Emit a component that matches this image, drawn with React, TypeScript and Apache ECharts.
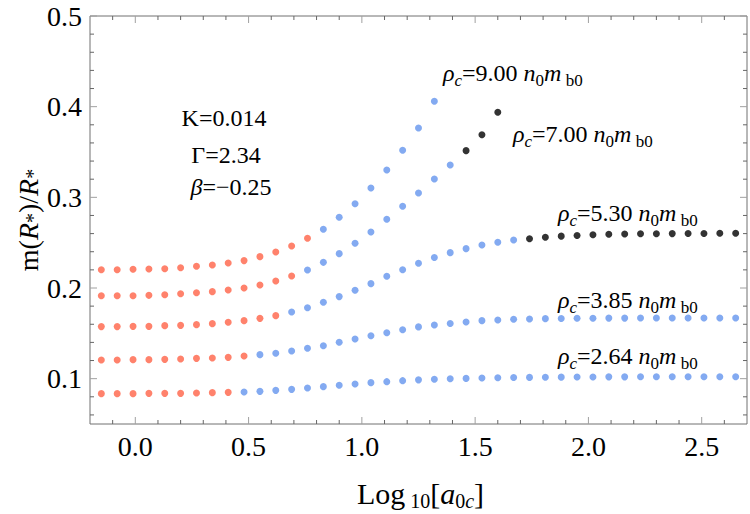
import React, { useEffect, useRef } from "react";
import * as echarts from "echarts";

// log10 of the central acceleration parameter, shared by every sequence
const logA0c = [
  -0.15, -0.08, -0.01, 0.06, 0.13, 0.2, 0.27, 0.34, 0.41, 0.48, 0.55, 0.62, 0.69, 0.76,
  0.83, 0.9, 0.97, 1.04, 1.11, 1.18, 1.25, 1.32, 1.39, 1.46, 1.53, 1.6, 1.67, 1.74,
  1.81, 1.88, 1.95, 2.02, 2.09, 2.16, 2.23, 2.3, 2.37, 2.44, 2.51, 2.58, 2.65,
];

// m(R*)/R* for each central density
const rho264 = [
  0.0835, 0.0835, 0.0835, 0.0838, 0.0838, 0.0838, 0.0842, 0.0846, 0.0849,
  0.0853, 0.086, 0.0871, 0.0882, 0.0897, 0.0912, 0.0927, 0.0941, 0.0956, 0.0967, 0.0978, 0.0987, 0.0994, 0.1,
  0.1003, 0.1007, 0.101, 0.1012, 0.1014, 0.1016, 0.1017, 0.1018, 0.1019, 0.102, 0.102, 0.1021, 0.1021,
  0.1021, 0.1022, 0.1022, 0.1022, 0.1022,
];
const rho385 = [
  0.1206, 0.1206, 0.121, 0.121, 0.1213, 0.1217, 0.1224, 0.1228, 0.1235, 0.125,
  0.1265, 0.128, 0.1305, 0.1335, 0.1364, 0.1401, 0.1437, 0.1474, 0.1507, 0.154, 0.1571, 0.1592, 0.1608,
  0.1625, 0.164, 0.1647, 0.1655, 0.1658, 0.1662, 0.1664, 0.1666, 0.1667, 0.1668, 0.1668, 0.1669, 0.1669,
  0.1669, 0.1669, 0.1669, 0.1669, 0.1669,
];
const rho530 = [
  0.1574, 0.1574, 0.1577, 0.1577, 0.1585, 0.1588, 0.1596, 0.1607, 0.1622, 0.164, 0.1665, 0.1695,
  0.1735, 0.1783, 0.1842, 0.1905, 0.1975, 0.2048, 0.2129, 0.2202, 0.2272, 0.2337, 0.239, 0.2434,
  0.2474, 0.2504, 0.2529,
  0.2544, 0.2559, 0.2572, 0.258, 0.2588, 0.2592, 0.2596, 0.2598, 0.2599, 0.26, 0.2601, 0.2602,
  0.2603, 0.2603,
];
const rho700 = [
  0.1915, 0.1915, 0.1915, 0.1919, 0.1926, 0.1937, 0.1948, 0.196, 0.1978, 0.2, 0.2033, 0.2077, 0.2132,
  0.2199, 0.2283, 0.2379, 0.2493, 0.2618, 0.2758, 0.2901, 0.3048, 0.3202, 0.3357,
  0.3515, 0.3691, 0.3938,
];
const rho900 = [
  0.2202, 0.2202, 0.2206, 0.221, 0.2213, 0.2224, 0.2239, 0.2254, 0.2276, 0.2302, 0.2346, 0.2397,
  0.2463, 0.2548,
  0.2647, 0.278, 0.293, 0.3103, 0.3301, 0.3519, 0.3765, 0.4059,
];

const sequences = [rho264, rho385, rho530, rho700, rho900];
// index where each sequence leaves the first (red) branch, and where it enters the last (black) one
const firstMiddleIndex = [9, 10, 12, 13, 14];
const firstLateIndex = [Infinity, Infinity, 27, 23, Infinity];

const densityLabels = ["2.64", "3.85", "5.30", "7.00", "9.00"];
const paramLines = ["K=0.014", "\u0393=2.34", "\u03b2=\u22120.25"];

const xTickLabels = [0, 0.5, 1, 1.5, 2, 2.5];
const yTickLabels = [0.1, 0.2, 0.3, 0.4, 0.5];

const X_MIN = -0.2;
const X_MAX = 2.7;
const Y_MIN = 0.05;
const Y_MAX = 0.5;

const SERIF = "'Liberation Serif', 'Times New Roman', serif";
const RED = "#FF6347";
const BLUE = "#6495ED";
const BLACK = "#000000";

function rich(size: number, sub: number, pad: number) {
  return {
    r: { fontFamily: SERIF, fontSize: size, fill: "#000", lineHeight: size + 4 },
    i: { fontFamily: SERIF, fontSize: size, fontStyle: "italic", fill: "#000", lineHeight: size + 4 },
    s: { fontFamily: SERIF, fontSize: sub, fill: "#000", lineHeight: sub, padding: [pad, 0, 0, 0] },
    si: { fontFamily: SERIF, fontSize: sub, fontStyle: "italic", fill: "#000", lineHeight: sub, padding: [pad, 0, 0, 0] },
  };
}

function near(v: number, step: number) {
  return Math.abs(v / step - Math.round(v / step)) < 1e-6;
}

export default function App() {
  const ref = useRef<HTMLDivElement>(null);

  useEffect(() => {
    if (!ref.current) return;
    const chart = echarts.init(ref.current, undefined, { renderer: "svg" });

    const early: number[][] = [];
    const middle: number[][] = [];
    const late: number[][] = [];
    sequences.forEach((vals, s) => {
      vals.forEach((v, k) => {
        const pt = [logA0c[k], v];
        if (k < firstMiddleIndex[s]) early.push(pt);
        else if (k < firstLateIndex[s]) middle.push(pt);
        else late.push(pt);
      });
    });

    // frame ticks: [position, anchor, length]
    const xTicks: number[][] = [];
    for (let i = -1; i <= 26; i++) {
      const v = Math.round(i) / 10;
      xTicks.push([v, Y_MIN, near(v, 0.5) ? 7 : 4]);
    }
    const yTicks: number[][] = [];
    for (let i = 3; i <= 25; i++) {
      const v = Math.round(i * 2) / 100;
      yTicks.push([X_MIN, v, near(v, 0.1) ? 7 : 4]);
    }

    const tickColor = (len: number) => (len > 5 ? "#a0a0a0" : "#666666");

    const labelPos = [
      [558, 356],
      [558, 299.5],
      [558, 212.5],
      [513, 133.5],
      [443, 73],
    ];
    const paramPos = [
      [224, 118],
      [226, 155],
      [231, 187],
    ];

    const labelRich = rich(24, 17, 15);
    const graphics: any[] = [];
    densityLabels.forEach((d, i) => {
      graphics.push({
        type: "text",
        x: labelPos[i][0],
        y: labelPos[i][1],
        silent: true,
        style: {
          text: `{i|\u03c1}{si|c}{r|=${d} }{i|n}{s|0}{i|m}{s| b0}`,
          rich: labelRich,
          align: "left",
          verticalAlign: "middle",
          fill: "#000",
        },
      });
    });
    paramLines.forEach((t, i) => {
      const text = i === 2 ? `{i|\u03b2}{r|${t.slice(1)}}` : `{r|${t}}`;
      graphics.push({
        type: "text",
        x: paramPos[i][0],
        y: paramPos[i][1],
        silent: true,
        style: { text, rich: rich(24, 17, 15), align: "center", verticalAlign: "middle", fill: "#000" },
      });
    });
    // axis titles
    graphics.push({
      type: "text",
      x: 420.5,
      y: 493,
      silent: true,
      style: {
        text: "{r|Log}{s| 10}{r|[}{i|a}{s|0}{si|c}{r|]}",
        rich: rich(30, 20, 16),
        align: "center",
        verticalAlign: "middle",
        fill: "#000",
      },
    });
    graphics.push({
      type: "text",
      x: 28,
      y: 220,
      rotation: Math.PI / 2,
      silent: true,
      style: {
        text: "{r|m(}{i|R}{s|*}{r|)/}{i|R}{s|*}",
        rich: rich(28, 20, 10),
        align: "center",
        verticalAlign: "middle",
        fill: "#000",
      },
    });

    const dot = (name: string, color: string, data: number[][]) => ({
      name,
      type: "scatter",
      data,
      symbol: "circle",
      symbolSize: 7,
      itemStyle: { color },
      z: 3,
    });

    chart.setOption({
      animation: false,
      backgroundColor: "#ffffff",
      grid: {
        left: 90,
        top: 16,
        right: 1,
        bottom: 90,
        show: true,
        borderColor: "#707070",
        borderWidth: 1,
        backgroundColor: "transparent",
      },
      xAxis: {
        type: "value",
        min: X_MIN,
        max: X_MAX,
        interval: 0.1,
        axisLine: { show: false },
        axisTick: { show: false },
        splitLine: { show: false },
        axisLabel: {
          margin: 8,
          fontFamily: SERIF,
          fontSize: 28,
          color: "#000",
          formatter: (v: number) =>
            xTickLabels.some((t) => Math.abs(t - v) < 1e-6) ? (Math.round(v * 10) / 10).toFixed(1) : "",
        },
      },
      yAxis: {
        type: "value",
        min: Y_MIN,
        max: Y_MAX,
        interval: 0.05,
        axisLine: { show: false },
        axisTick: { show: false },
        splitLine: { show: false },
        axisLabel: {
          margin: 8,
          fontFamily: SERIF,
          fontSize: 28,
          color: "#000",
          formatter: (v: number) =>
            yTickLabels.some((t) => Math.abs(t - v) < 1e-6) ? (Math.round(v * 10) / 10).toFixed(1) : "",
        },
      },
      series: [
        {
          type: "custom",
          data: xTicks,
          encode: { x: 0, y: 1 },
          silent: true,
          z: 1,
          renderItem: (_p: any, api: any) => {
            const v = api.value(0);
            const len = api.value(2);
            const b = api.coord([v, Y_MIN]);
            const t = api.coord([v, Y_MAX]);
            const style = { stroke: tickColor(len), lineWidth: 1 };
            return {
              type: "group",
              children: [
                { type: "line", shape: { x1: b[0], y1: b[1], x2: b[0], y2: b[1] - len }, style },
                { type: "line", shape: { x1: t[0], y1: t[1], x2: t[0], y2: t[1] + len }, style },
              ],
            };
          },
        },
        {
          type: "custom",
          data: yTicks,
          encode: { x: 0, y: 1 },
          silent: true,
          z: 1,
          renderItem: (_p: any, api: any) => {
            const v = api.value(1);
            const len = api.value(2);
            const l = api.coord([X_MIN, v]);
            const r = api.coord([X_MAX, v]);
            const style = { stroke: tickColor(len), lineWidth: 1 };
            return {
              type: "group",
              children: [
                { type: "line", shape: { x1: l[0], y1: l[1], x2: l[0] + len, y2: l[1] }, style },
                { type: "line", shape: { x1: r[0], y1: r[1], x2: r[0] - len, y2: r[1] }, style },
              ],
            };
          },
        },
        dot("early", RED, early),
        dot("middle", BLUE, middle),
        dot("late", BLACK, late),
      ],
      graphic: graphics,
    });

    return () => chart.dispose();
  }, []);

  return (
    <div
      ref={ref}
      style={{ position: "fixed", left: 0, top: 0, width: 750, height: 514, background: "#fff" }}
    />
  );
}
